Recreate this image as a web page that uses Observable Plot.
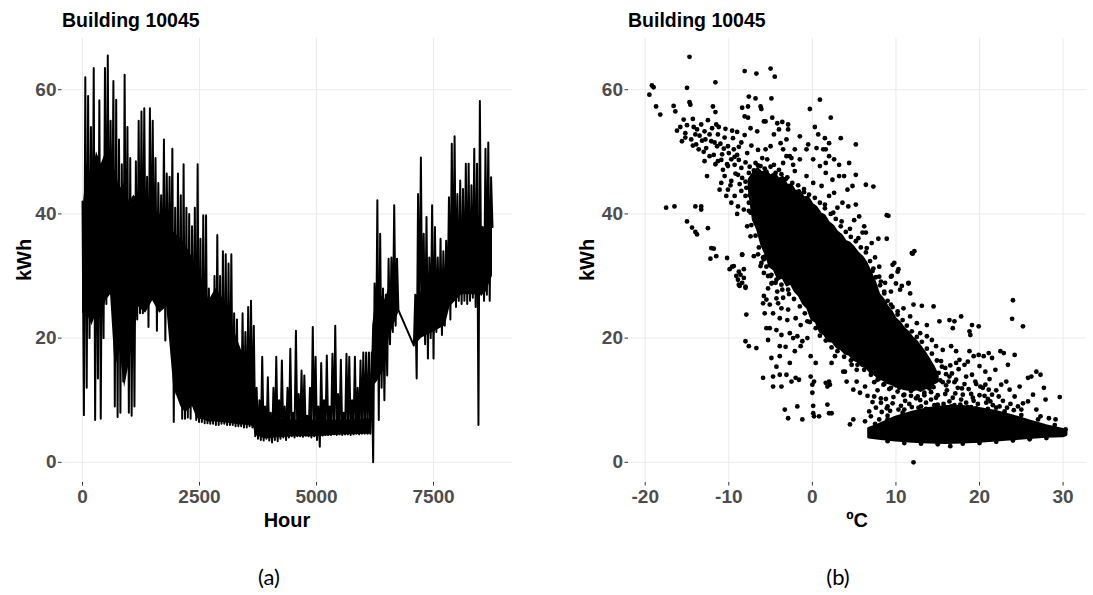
<!DOCTYPE html>
<html>
<head>
<meta charset="utf-8">
<script src="https://cdn.jsdelivr.net/npm/d3@7"></script>
<script src="https://cdn.jsdelivr.net/npm/@observablehq/plot@0.6"></script>
<style>
  html, body { margin: 0; padding: 0; background: #ffffff; }
  #wrap { position: relative; width: 1093px; height: 595px; overflow: hidden; font-family: "Liberation Sans", Arial, sans-serif; }
  #wrap svg { position: absolute; top: 0; }
  .ttl { position: absolute; font-weight: bold; font-size: 19.5px; line-height: 1; color: #000; white-space: nowrap; }
  .axt { position: absolute; font-weight: bold; font-size: 20px; line-height: 1; color: #000; white-space: nowrap; transform: translate(-50%, 0); }
  .axy { position: absolute; font-weight: bold; font-size: 20px; line-height: 1; color: #000; white-space: nowrap; transform: translate(-50%, -50%) rotate(-90deg); }
  .cap { position: absolute; font-family: Lato, "Open Sans", sans-serif; font-size: 22px; line-height: 1; color: #000; white-space: nowrap; transform: translate(-50%, -50%); }
</style>
</head>
<body>
<div id="wrap"></div>
<script>
// ---------- Panel (a): hourly consumption, sampled every 30 hours ----------
const hourStep = 30;
const seg1StartHour = 0;
const seg2StartHour = 7080;
const kwhSeg1 = [
  42,7.6, 62,12, 59,20, 54,24, 63.5,6.8, 49,13.5, 58.3,7, 47,20, 63.5,25.5, 65.5,28,
  55,30, 61.4,9, 58.4,7.3, 52,8, 48,13, 62.4,20, 54,8, 49,7.5, 40,9, 48.5,23,
  55,24, 56.5,24, 57,27, 46,21.8, 57,27, 55,26, 49,21.2, 45,27, 43,26, 52,19.6,
  46.5,26, 46,25, 50.5,6.5, 41,11, 46.5,11, 43,7, 48,7, 41,7.2, 40,7, 38,14.3,
  41,6.8, 48,6.5, 36,6.5, 39.8,6.3, 39.8,6.3, 28,6.2, 25,6.2, 30,6, 36.6,6, 30,6.2,
  34,6.2, 33.5,6, 32,6, 33.5,6, 24,5.8, 23,5.8, 18,5.8, 24,5.6, 21,5.6, 25,5.8,
  26,5.6, 22,4.2, 12,3.8, 10,3.6, 17,3.5, 9,3.8, 13.7,3.5, 8,3.2, 12,3.6, 17,3.4,
  10,3.8, 16.4,4, 9,3.6, 12,4, 18.3,4.2, 8,4, 21.2,4.2, 11,4.2, 14.8,4.1, 14,4.3,
  7.5,4.2, 12,4, 21.8,4.2, 17,3.6, 9,2.5, 16,4.3, 10,4.4, 17.2,4.4, 9,4.4, 17.5,4.5,
  22,4.4, 11,4.5, 16.5,4.4, 8,4.5, 17.5,4.5, 17,4.4, 10,4.5, 17,4.6, 12,4.5, 16.4,4.6,
  17.7,4.6, 17.7,4.6, 17.7,4.6, 17.7,0, 28.8,13.7, 42.2,6.8, 36.8,12, 28,10, 27,14, 32.8,19,
  33,21, 41.4,22, 32.8,24.5
];
const kwhSeg2 = [
  18.8, 27, 13.5, 43.2, 22, 49.1, 20.7, 36.8, 19, 39.5,
  16.7, 33, 20, 41.4, 16.7, 37.9, 21, 33, 22, 36,
  20.5, 34, 22, 35.7, 25, 42.7, 23, 51.3, 26, 52.5,
  25, 43.2, 26, 45.4, 25.5, 44, 26, 48.1, 25.5, 48.1,
  26, 44.6, 26.5, 50.5, 25, 48.1, 6, 58.2, 27, 37.9,
  26, 50.5, 27, 51.5, 26, 45.9, 37.9
];
// range where the daily oscillation fills the plot solid black (before the data gap)
const denseHour1 = [0, 100, 200, 300, 400, 500, 600, 700, 800, 900, 1000, 1100, 1200, 1350, 1500, 1650, 1800, 1950, 2100, 2200, 2350, 2450, 2600, 2700, 2850, 2950, 3100, 3200, 3350, 3450, 3650, 3700, 3900, 4500, 5000, 5500, 6150, 6200, 6300, 6450, 6550, 6750];
const denseLow1  = [24, 24, 22, 24, 23, 26, 27, 15, 18, 12, 16, 20, 25, 24, 26, 24, 25, 12, 9, 8, 9, 7, 6.8, 6.5, 6.5, 6.4, 6.3, 6.2, 6.0, 6.0, 5.8, 4.3, 3.8, 4.1, 4.1, 4.4, 4.5, 12, 13, 15, 20, 24];
const denseHigh1 = [40, 48, 46, 50, 48, 50, 47, 47, 44, 45, 42, 43, 42, 43, 41, 40, 39, 37, 36, 35, 33, 31, 29, 26, 28, 27, 25, 22, 19, 17, 15, 8, 7, 6.8, 6.8, 6.8, 7, 22, 28, 26, 28, 27];
// ... and after the data gap
const denseHour2 = [7100, 7250, 7500, 7750, 7850, 8100, 8400, 8600, 8760];
const denseLow2  = [18.8, 20, 21, 22, 25, 27, 27, 27, 30];
const denseHigh2 = [24, 28, 30, 31, 36, 38, 37, 36, 38];

const hourTicks = [0, 2500, 5000, 7500];
const kwhTicks = [0, 20, 40, 60];

// ---------- Panel (b): consumption vs outdoor temperature ----------
const tempTicks = [-20, -10, 0, 10, 20, 30];
// dense cloud (solid black band), read as lower/upper kWh per temperature
const coreTemp = [-7.5, -7, -6.5, -6, -5.5, -5, -4.5, -4, -3.5, -3, -2.5, -2, -1.5, -1, -0.5, 0, 0.5, 1, 1.5, 2, 2.5, 3, 3.5, 4, 4.5, 5, 5.5, 6, 6.5, 7, 7.5, 8, 8.5, 9, 9.5, 10, 10.5, 11, 11.5, 12, 12.5, 13, 13.5, 14, 14.5, 15];
const coreLow  = [44, 39, 37.5, 35, 33.5, 31.5, 31, 29.5, 29.8, 28.5, 28.8, 27.5, 26.8, 25.5, 24.8, 23, 22.6, 21, 20.6, 19.5, 19.4, 18.5, 18.2, 17.5, 17.3, 16.5, 16.2, 15.5, 15.3, 14.5, 14.2, 13.5, 13.3, 12.8, 12.6, 12.2, 12.1, 11.8, 11.7, 11.5, 11.8, 11.5, 11.9, 12, 12.6, 13];
const coreHigh = [45.5, 46.5, 47.2, 46.5, 46.8, 46, 46.4, 45.5, 45.8, 44.5, 44.6, 43.5, 43.7, 42.5, 42.6, 41.5, 41.0, 40, 39.6, 38.5, 38.0, 37, 36.5, 35.5, 35.2, 34.5, 33.6, 33, 32.0, 30.5, 29.0, 27, 26.2, 25, 24.2, 23, 22.4, 21.5, 20.9, 20, 19.4, 18.5, 17.6, 16.5, 15.4, 14];
// summer base load band
const baseTemp = [6.8, 8, 10, 12, 14, 16, 18, 20, 22, 24, 26, 28, 30, 30.4];
const baseLow  = [4.0, 3.8, 3.5, 3.3, 3.2, 3.1, 3.2, 3.3, 3.5, 3.7, 3.9, 4.1, 4.2, 4.4];
const baseHigh = [5.4, 6.0, 7.2, 8.0, 8.6, 8.9, 8.9, 8.6, 8.1, 7.4, 6.6, 5.8, 5.2, 4.9];
// individual hours outside the dense cloud [temperature, kWh]
const scatterPts = [
  [-14.7,65.3],[-19.2,60.7],[-19.0,60.4],[-19.5,59.2],[-15.0,60.3],[-11.6,61.2],[-8.1,63.0],[-6.7,62.6],[-5.0,63.4],[-4.5,62.1],
  [-18.7,57.3],[-18.2,56.0],[-16.6,57.4],[-16.4,56.5],[-14.7,58.0],[-14.6,57.6],[-11.9,57.3],[-11.6,56.4],[-7.6,58.9],[-6.8,58.6],
  [-4.9,58.6],[-8.4,57.1],[-7.7,57.3],[-6.2,57.3],[-6.1,56.9],[-8.1,55.7],[-7.7,55.5],[-15.4,55.2],[-14.3,55.3],[-12.5,55.1],
  [-11.5,54.4],[-13.3,54.4],[-9.6,53.4],[-5.6,54.9],[-4.8,55.5],[-4.2,54.6],[-3.6,54.8],[-2.9,54.4],[-2.9,53.6],[-0.3,56.9],
  [0.9,58.4],[2.2,55.5],[0.3,54.0],[-15.2,53.0],[-15.6,51.7],[-14.0,52.8],[-12.9,53.3],[-12.1,51.7],[-11.3,52.8],[-12.7,50.6],
  [-13.6,50.4],[-11.4,50.9],[-10.1,50.9],[-9.4,50.4],[-10.8,49.6],[-11.3,48.5],[-9.7,48.8],[-12.9,48.5],[-12.6,46.1],[-14.5,52.0],
  [-13.2,51.8],[-12.0,53.8],[-10.5,52.3],[-11.8,49.5],[-13.8,53.6],[-10.2,48.0],[-9.0,49.5],[-8.5,51.5],[-9.5,52.2],
  [-10.7,47.1],[-10.1,47.7],[-9.3,47.9],[-8.5,47.4],[-10.5,46.1],[-9.7,45.3],[-8.9,46.3],[-8.4,45.8],[-7.6,46.6],[-10.1,43.9],
  [-9.3,42.9],[-8.5,43.7],[-8.0,42.9],[-9.7,41.8],[-8.9,41.2],[-8.2,40.7],[-7.6,41.8],[-10.9,45.0],[-11.1,43.9],[-10.3,42.9],
  [-9.8,44.6],[-8.7,44.8],[-7.9,44.2],[-9.0,40.0],[-7.4,40.2],
  [-15.8,54.0],[-15.0,54.3],[-14.2,54.0],[-13.5,52.6],[-12.8,52.0],[-12.3,52.8],[-11.7,51.5],[-11.0,51.3],[-10.6,50.5],[-10.0,49.8],
  [-9.3,49.2],[-8.8,48.7],[-8.0,48.3],[-7.5,47.6],[-7.0,47.0],[-13.9,51.2],[-13.0,50.0],[-12.3,49.3],[-11.6,48.0],[-10.9,48.7],
  [-15.2,52.3],[-14.3,51.0],[-16.2,53.4],[-11.2,54.0],[-10.4,53.7],[-9.0,53.2],[-8.1,52.7],[-7.3,51.0],[-6.5,50.3],[-6.0,49.0],
  [-7.8,49.8],[-8.8,50.8],[-6.9,45.5],[-8.0,45.2],[-9.2,46.5],
  [-6.8,48.2],[-6.2,47.7],[-5.4,48.8],[-4.6,47.9],[-4.0,47.1],[-3.5,48.2],[-3.1,49.3],[-2.5,49.0],[-2.3,47.9],[-1.5,48.8],
  [-2.1,46.9],[-7.4,53.8],[-6.6,53.3],[-5.8,54.9],[-3.8,51.4],[-3.5,50.4],[-2.7,49.3],[-2.1,50.4],[-0.7,50.4],[0.5,50.6],
  [1.5,52.2],[1.6,50.4],[2.0,49.3],[2.6,48.8],[3.4,52.2],[5.2,51.2],[4.4,48.2],[3.2,46.1],[3.8,46.1],[5.2,46.3],
  [6.4,44.7],[7.3,44.4],[4.8,44.5],[4.2,43.9],[2.6,43.4],[2.0,42.9],[3.6,41.8],[4.3,41.2],[5.2,41.5],[5.6,39.6],
  [9.1,39.7],[8.9,39.8],[6.2,38.0],[6.4,37.0],[7.9,36.0],[8.9,36.0],[7.1,35.3],[9.8,32.1],[10.3,31.1],[9.5,30.0],
  [8.7,28.9],[10.7,28.4],[11.5,28.9],[12.2,34.0],[12.0,33.6],
  [-1.5,52.5],[-0.5,51.2],[0.1,48.8],[0.9,47.7],[1.6,46.6],[-0.7,46.1],[0.1,45.0],[1.1,44.5],[1.6,48.2],[2.4,45.5],
  [3.2,47.9],[0.7,52.8],[1.3,50.4],[2.0,51.4],[-3.1,52.0],[-5.0,50.9],[-5.6,50.4],[-4.6,52.8],[-4.0,53.6],
  [-17.5,41.0],[-16.5,41.2],[-14.0,41.2],[-13.3,41.2],[-13.3,40.7],[-15.0,38.8],[-14.4,37.8],[-14.0,37.1],[-13.8,36.7],[-12.5,37.7],
  [-12.1,34.5],[-11.8,34.4],[-11.5,33.2],[-12.2,32.8],[-10.2,32.9],[-8.4,33.5],[-9.9,31.1],[-9.4,31.6],[-9.1,30.0],[-8.2,31.1],
  [-8.9,29.4],[-8.4,28.9],[-8.7,28.4],[-8.0,28.1],[-5.8,32.7],[-5.4,33.7],[-6.2,31.6],[-5.0,30.0],[-4.8,28.9],[-5.8,26.8],
  [-7.0,33.2],[-7.4,36.4],[-7.8,38.0],
  [-8.4,33.4],[-9.6,31.5],[-8.8,30.7],[-8.6,30.2],[-8.2,29.7],[-8.8,28.6],[-8.0,28.3],[-7.9,23.8],[-8.0,19.5],[-7.6,18.7],
  [-6.7,18.4],[-6.1,32.1],[-5.7,33.1],[-5.1,31.8],[-5.3,30.0],[-4.9,28.8],[-5.3,28.0],[-4.3,29.4],[-3.7,28.6],[-2.9,27.8],
  [-5.9,25.6],[-5.5,26.2],[-5.1,25.4],[-4.3,26.4],[-4.1,25.6],[-5.7,24.0],[-4.7,24.0],[-3.7,24.8],[-2.9,24.6],[-3.9,23.2],
  [-3.0,22.9],[-2.0,23.2],[-1.4,22.1],[-0.6,22.7],[-5.5,21.6],[-5.1,21.6],[-4.3,21.3],[-3.7,20.5],[-2.7,20.8],[-2.3,20.0],
  [-1.8,20.3],[-1.2,19.5],[-0.6,20.0],[-5.3,19.7],[-3.9,18.7],[-3.2,18.6],[-4.9,16.8],[-3.9,17.1],[-4.3,15.4],[-2.7,16.0],
  [-2.1,17.9],[-1.4,18.7],[-0.2,17.1],[0.4,16.0],[-5.9,13.6],[-4.7,13.8],[-3.9,14.1],[-3.1,14.1],[-2.0,13.6],[-1.6,13.3],
  [-0.2,13.8],[0.2,13.0],[-4.7,12.2],[-3.7,12.2],[-2.5,13.0],[0.0,12.5],[0.0,11.2],[1.6,12.8],[2.0,13.0],[2.1,12.5],
  [1.8,12.2],[-3.3,8.5],[-2.9,7.1],[-1.8,9.0],[-1.2,6.9],[0.1,9.1],[0.1,7.9],[0.2,7.4],[0.8,7.4],[1.8,9.3],
  [2.0,7.9],[2.3,7.9],[2.3,16.0],[2.7,17.1],[3.7,14.6],[3.9,14.6],[4.7,15.7],[5.3,14.9],[4.1,13.0],[4.9,11.7],
  [5.3,13.0],[5.7,11.2],[6.3,12.2],[6.6,10.7],[7.4,10.6],[8.2,10.3],[9.0,9.0],[4.5,6.1],[4.9,6.9],[6.3,6.6],
  [7.0,7.4],[8.0,6.9],[9.0,6.9],
  [6.3,31.3],[7.0,29.9],[8.0,29.9],[8.2,29.1],[9.4,29.9],[9.6,31.8],[10.2,30.7],[10.0,28.8],[10.5,27.8],[11.7,27.2],
  [11.5,28.8],[11.9,33.7],[8.6,27.5],[9.4,27.5],[7.0,26.4],[8.2,25.4],[9.4,25.4],[10.2,24.3],[10.9,24.8],[12.1,25.4],
  [13.1,25.2],[14.5,25.1],[13.7,22.1],[15.2,22.7],[16.4,22.9],[16.8,21.6],[17.0,22.7],[17.8,23.5],[18.8,21.1],[18.9,20.5],
  [19.1,22.1],[19.9,21.9],[24.0,26.1],[23.9,23.1],[25.2,21.9],[11.7,23.5],[12.5,22.4],[12.9,20.8],[13.7,20.3],[14.3,19.7],
  [14.8,18.7],[15.6,18.1],[16.6,18.7],[17.2,17.9],[18.8,17.9],[19.3,17.1],[19.9,17.3],[20.5,17.1],[21.1,17.6],[21.5,16.8],
  [22.5,17.9],[22.9,17.6],[24.2,17.3],[23.4,15.7],[21.9,14.9],[20.7,14.6],[19.1,14.1],[18.2,15.7],[17.2,16.0],[17.6,16.5],
  [16.4,13.8],[17.2,13.3],[18.4,13.8],[19.5,13.0],[20.1,12.2],[20.7,12.5],[21.1,11.7],[21.5,10.9],[22.3,10.6],[23.2,13.0],
  [23.6,11.7],[24.2,10.6],[25.2,9.5],[25.8,9.8],[25.8,13.6],[26.2,13.8],[26.8,14.6],[27.3,14.1],[27.7,12.0],[27.9,10.1],
  [29.6,10.5],[26.4,10.9],[25.0,8.5],[26.8,8.5],[27.3,7.4],[28.3,7.1],[29.1,6.9],[30.1,5.0],[12.1,0.0],
  [8.5,12.5],[9.2,11.8],[9.8,13.2],[10.4,12.0],[10.9,10.8],[11.3,12.8],[11.8,11.5],[12.4,10.3],[12.9,12.6],[13.4,11.2],
  [13.9,13.5],[14.5,12.1],[15.0,10.8],[15.6,12.9],[16.1,11.6],[16.8,10.4],[17.4,12.0],[18.0,10.9],[18.7,11.8],[19.3,9.9],
  [20.0,10.8],[20.8,9.6],[21.6,9.2],[22.4,9.0],[23.3,8.8],[24.1,8.4],[9.6,9.5],[10.6,9.1],[11.6,9.4],[12.7,8.8],
  [13.6,9.6],[14.6,9.2],[15.7,9.4],[16.6,9.0],[17.7,9.3],[18.6,8.9],[19.6,8.7],[10.1,14.8],[11.0,15.6],[12.1,16.2],
  [12.6,14.6],[13.2,15.8],[14.1,15.1],[15.1,14.4],[15.9,15.2],[16.7,14.3],[17.5,15.0],[7.8,11.6],[8.8,10.2],[7.4,12.9],
  [8.0,13.5],[9.0,14.0],[11.2,13.9],[14.2,10.1],[13.0,13.8],[16.3,13.0],[18.2,12.6],[19.0,11.0],[20.4,12.0],[21.0,10.2],
  [22.0,11.6],[15.4,16.3],[17.0,12.9],
  [8.2,9.6],[8.9,8.7],[9.7,10.5],[10.3,8.5],[11.1,9.9],[11.9,8.9],[12.9,10.0],[13.6,8.6],[14.0,11.9],[14.8,10.4],
  [15.3,13.2],[15.9,11.0],[16.4,9.8],[17.1,11.1],[17.8,10.1],[18.4,9.6],[19.2,10.4],[19.8,9.4],[20.6,10.7],[21.3,9.8],
  [22.0,8.8],[22.8,9.9],[23.7,9.4],[24.6,9.0],[9.3,8.3],[10.8,8.0],[12.2,7.8],[13.9,8.0],[15.4,8.3],[16.9,8.2],
  [18.3,8.4],[20.2,8.3],[21.8,8.1],[8.3,8.1],[7.6,8.8],[7.2,9.7],[6.8,8.2],[16.0,12.4],[17.9,11.9],[19.6,12.6],
  [21.2,13.4],[22.6,12.5],[24.8,12.2],[14.7,13.8],[16.5,15.6],[18.6,16.2],[20.0,15.5],
  [1.5,41.5],[2.5,40.2],[3.5,38.8],[4.5,37.6],[5.5,36.1],[6.5,34.5],[3.0,41.0],[5.0,39.0],[6.0,37.0],[7.5,33.0],
  [7.2,30.8],[8.0,31.5],[7.5,14.3],[9.0,13.2],[10.5,13.0],[12.0,13.4],[13.5,14.2],[-6.5,33.5],[-5.8,30.5],[-4.2,27.5],
  [-3.5,26.5],[-7.5,43.0],[-6.9,46.3],[-5.5,46.8],[-3.2,45.6],[-1.0,43.5],
  [-6.5,47.8],[-5.7,47.3],[-5.0,47.6],[-4.4,46.6],[-3.7,46.4],[-3.0,45.9],[-2.4,45.0],[-1.7,44.6],[-1.0,44.0],[-0.4,43.1],
  [0.3,42.6],[0.9,41.8],[1.5,40.9],[2.2,40.0],[2.8,39.2],[3.4,38.0],[4.0,37.1],[4.6,36.3],[5.2,35.6],[5.8,34.6],
  [6.4,33.8],[6.9,32.4],[7.3,31.2],[7.6,29.8],[8.1,28.5],[8.6,27.2],[9.0,26.0],[9.6,25.0],[10.2,23.8],[10.8,22.9],
  [11.3,22.0],[11.9,21.1],[12.5,20.2],[13.1,19.4],[13.7,18.3],[14.3,17.5],[14.9,16.4],[15.5,15.4],[16.0,14.2],
  [-7.6,40.5],[-7.3,38.2],[-6.8,36.5],[-6.4,34.6],[-5.9,33.0],[-5.5,31.5],[-4.9,30.2],[-4.4,28.9],[-3.6,27.8],[-2.8,27.1],
  [-2.2,26.3],[-1.5,25.1],[-0.9,24.0],[-0.3,22.6],[0.4,21.6],[0.9,20.4],[1.6,19.6],[2.3,18.5],[3.0,17.9],[3.8,17.0],
  [4.6,16.4],[5.4,15.7],[6.2,14.9],[7.0,14.1],[7.8,13.3],[8.6,12.6],[9.4,12.0],[10.2,11.4],[11.0,10.9],[11.8,10.7],
  [12.6,10.6],[13.4,10.8],[14.2,11.3],
  [7.5,6.2],[9.0,7.5],[11.0,8.5],[13.0,9.0],[15.0,9.3],[17.0,9.2],[19.0,8.9],[21.0,8.6],[23.0,8.2],[25.0,7.6],
  [27.0,6.9],[29.0,6.0],[30.3,5.3],[9.0,3.4],[11.0,3.1],[13.0,3.0],[15.0,2.9],[16.5,2.6],[18.0,3.0],[20.0,3.1],
  [22.0,3.3],[24.0,3.5],[26.0,3.7],[28.0,3.9]
];

// ---------- build tables ----------
const lineData = [
  ...kwhSeg1.map((v, i) => ({hour: seg1StartHour + i * hourStep, kwh: v})),
  ...kwhSeg2.map((v, i) => ({hour: seg2StartHour + i * hourStep, kwh: v}))
];
const dense1 = denseHour1.map((h, i) => ({h, lo: denseLow1[i], hi: denseHigh1[i]}));
const dense2 = denseHour2.map((h, i) => ({h, lo: denseLow2[i], hi: denseHigh2[i]}));
const coreData = coreTemp.map((t, i) => ({t, lo: coreLow[i], hi: coreHigh[i]}));
const baseData = baseTemp.map((t, i) => ({t, lo: baseLow[i], hi: baseHigh[i]}));

const fontFam = "'Liberation Sans', Arial, sans-serif";
const gridStyle = {stroke: "#ebebeb", strokeOpacity: 1, strokeWidth: 1};
const axisStyle = {
  fontSize: 19, fontWeight: "bold", fill: "#4d4d4d", stroke: "#333333",
  tickSize: 3.5, label: null, tickFormat: d => String(d)
};

const yDomain = [-3.25, 68.25];

const left = Plot.plot({
  width: 540, height: 540,
  marginLeft: 61.5, marginRight: 27.5, marginTop: 38, marginBottom: 58,
  x: {domain: [-438, 9198]},
  y: {domain: yDomain},
  style: {fontFamily: fontFam, background: "transparent", overflow: "visible"},
  marks: [
    Plot.gridX(hourTicks, gridStyle),
    Plot.gridY(kwhTicks, gridStyle),
    Plot.axisX(hourTicks, {...axisStyle, tickPadding: 3}),
    Plot.axisY(kwhTicks, {...axisStyle, tickPadding: 2}),
    Plot.areaY(dense1, {x: "h", y1: "lo", y2: "hi", fill: "#000"}),
    Plot.areaY(dense2, {x: "h", y1: "lo", y2: "hi", fill: "#000"}),
    Plot.line(lineData, {x: "hour", y: "kwh", stroke: "#000", strokeWidth: 2})
  ]
});
left.style.left = "0px";

const right = Plot.plot({
  width: 533, height: 540,
  marginLeft: 68, marginRight: 7, marginTop: 38, marginBottom: 58,
  x: {domain: [-22, 32.8]},
  y: {domain: yDomain},
  style: {fontFamily: fontFam, background: "transparent", overflow: "visible"},
  marks: [
    Plot.gridX(tempTicks, gridStyle),
    Plot.gridY(kwhTicks, gridStyle),
    Plot.axisX(tempTicks, {...axisStyle, tickPadding: 3}),
    Plot.axisY(kwhTicks, {...axisStyle, tickPadding: 2}),
    Plot.areaY(coreData, {x: "t", y1: "lo", y2: "hi", fill: "#000", stroke: "#000", strokeWidth: 3, strokeLinejoin: "round"}),
    Plot.areaY(baseData, {x: "t", y1: "lo", y2: "hi", fill: "#000", stroke: "#000", strokeWidth: 3, strokeLinejoin: "round"}),
    Plot.dot(scatterPts, {x: d => d[0], y: d => d[1], r: 2.4, fill: "#000", stroke: "none"})
  ]
});
right.style.left = "560px";

const wrap = document.getElementById("wrap");
wrap.appendChild(left);
wrap.appendChild(right);

function addText(cls, txt, css) {
  const d = document.createElement("div");
  d.className = cls;
  d.textContent = txt;
  Object.assign(d.style, css);
  wrap.appendChild(d);
}
addText("ttl", "Building 10045", {left: "62px", top: "11px"});
addText("ttl", "Building 10045", {left: "628px", top: "11px"});
addText("axt", "Hour", {left: "287px", top: "510px"});
addText("axt", "ºC", {left: "857px", top: "510px"});
addText("axy", "kWh", {left: "24px", top: "260px"});
addText("axy", "kWh", {left: "587px", top: "260px"});
addText("cap", "(a)", {left: "269px", top: "577px"});
addText("cap", "(b)", {left: "838px", top: "577px"});
</script>
</body>
</html>
